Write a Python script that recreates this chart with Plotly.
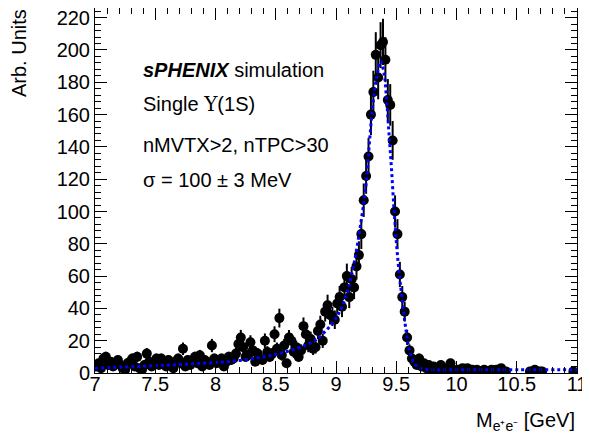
import numpy as np
import plotly.graph_objects as go

# invariant mass bin centres (0.02 GeV bins, 7 - 11 GeV)
mass = np.round(7.01 + 0.02 * np.arange(200), 2)

# entries per bin (None = empty bin)
counts = [
    4, 6, 3, 9, 10, 5, 7, 4, 6, 8,
    5, 3, 2, 6, 7, 9, 4, 10, 3, 2,
    5, 12, 7, 4, 6, 9, 5, 9, 6, 4,
    8, 5, 3, 7, 9, 6, 15, 4, 8, 5,
    7, 10, 6, 11, 4, 8, 7, 5, 17, 9,
    6, 8, 9, 4, 7, 10, 8, 9, 12, 18,
    22, 16, 10, 11, 19, 14, 7, 12, 9, 8,
    20, 13, 10, 12, 24, 15, 34, 11, 17, 6,
    22, 20, 13, 16, 10, 14, 29, 24, 17, 21,
    15, 16, 26, 30, 20, 38, 42, 36, 35, 33,
    43, 47, 41, 53, 60, 47, 58, 53, 66, 73,
    86, 107, 122, 134, 160, 174, 197, 183, 203, 205,
    194, 169, 166, 144, 100, 86, 61, 47, 38, 22,
    14, 9, 7, 5, 9, 4, 6, 3, 5, 2,
    4, 2, 3, 5, 2, 1, 3, 6, 2, 1,
    2, 1, 3, 2, 3, 1, 2, 1, 2, 1,
    1, 2, 1, 1, 2, 1, 2, 1, 3, 1,
    1, None, None, None, None, None, None, None, None, None,
    1, 1, 2, None, 1, 1, None, None, None, None,
    None, None, None, None, None, None, None, None, 1, None,
]

# fit curve
fit_x = [7.0, 7.5, 8.0, 8.2, 8.4, 8.6, 8.8, 8.9, 9.0, 9.05, 9.1, 9.15, 9.2,
         9.25, 9.28, 9.31, 9.34, 9.37, 9.40, 9.42, 9.44, 9.46, 9.48, 9.5,
         9.52, 9.55, 9.58, 9.61, 9.65, 9.7, 9.8, 10.0, 11.0]
fit_y = [3.0, 4.5, 6.5, 7.8, 10, 13.5, 19, 25, 34, 41, 52, 68, 90,
         117, 145, 169, 184, 193, 185, 169, 148, 127, 103, 82,
         65, 45, 27, 14, 6, 3, 2, 2, 2]

x_pts = [m for m, c in zip(mass, counts) if c is not None]
y_pts = [c for c in counts if c is not None]
err = np.sqrt(y_pts)

FONT = "Liberation Sans, Arial, Helvetica, sans-serif"

fig = go.Figure()

fig.add_trace(go.Scatter(
    x=x_pts, y=y_pts, mode='markers',
    marker=dict(color='black', size=10),
    error_y=dict(type='data', array=err, color='black', thickness=2, width=0),
    showlegend=False,
))

fig.add_trace(go.Scatter(
    x=fit_x, y=fit_y, mode='lines', line_shape='spline',
    line=dict(color='#0000ff', width=3, dash='dot'),
    showlegend=False,
))

# page has an 8px body margin, so the figure is a bit smaller than the window
fig.update_layout(
    width=582, height=428,
    margin=dict(l=87, r=13, t=0, b=63),
    paper_bgcolor='white', plot_bgcolor='white',
    font=dict(family=FONT, size=20, color='black'),
    xaxis=dict(
        range=[7, 11], dtick=0.5, tick0=7,
        ticks='inside', ticklen=12, tickwidth=1, tickcolor='black',
        showline=True, linecolor='black', linewidth=1, mirror='ticks',
        showgrid=False, zeroline=False,
        minor=dict(ticks='inside', ticklen=6, dtick=0.1, tickcolor='black', showgrid=False),
        tickfont=dict(size=20), ticklabelstandoff=-7, ticklabeloverflow='allow',
    ),
    yaxis=dict(
        range=[0, 226], dtick=20, tick0=0,
        ticks='inside', ticklen=12, tickwidth=1, tickcolor='black',
        showline=True, linecolor='black', linewidth=1, mirror='ticks',
        showgrid=False, zeroline=False,
        minor=dict(ticks='inside', ticklen=6, dtick=4, tickcolor='black', showgrid=False),
        tickfont=dict(size=20), ticklabeloverflow='allow',
    ),
)

# axis titles placed like ROOT (right / top aligned)
fig.add_annotation(
    text="M<sub>e⁺e⁻</sub> [GeV]", xref='paper', yref='paper',
    x=1.0, y=-0.134, xanchor='right', yanchor='middle', showarrow=False,
    font=dict(size=20),
)
fig.add_annotation(
    text="Arb. Units", xref='paper', yref='paper',
    x=(11 - 87) / 482, y=1 - 45 / 365, xanchor='center', yanchor='middle',
    textangle=-90, showarrow=False, font=dict(size=20),
)

# labels inside the frame
labels = [
    "<b><i>sPHENIX</i></b> simulation",
    "Single <span style='font-family:DejaVu Serif, serif'>Υ</span>(1S)",
    "nMVTX>2, nTPC>30",
    "σ = 100 ± 3 MeV",
]
label_y = [70, 104, 145, 180]
for txt, py in zip(labels, label_y):
    fig.add_annotation(
        text=txt, xref='paper', yref='paper',
        x=(141 - 95) / 482, y=1 - (py - 8) / 365,
        xanchor='left', yanchor='middle', showarrow=False,
        font=dict(size=20),
    )

fig.write_html("out.html")
